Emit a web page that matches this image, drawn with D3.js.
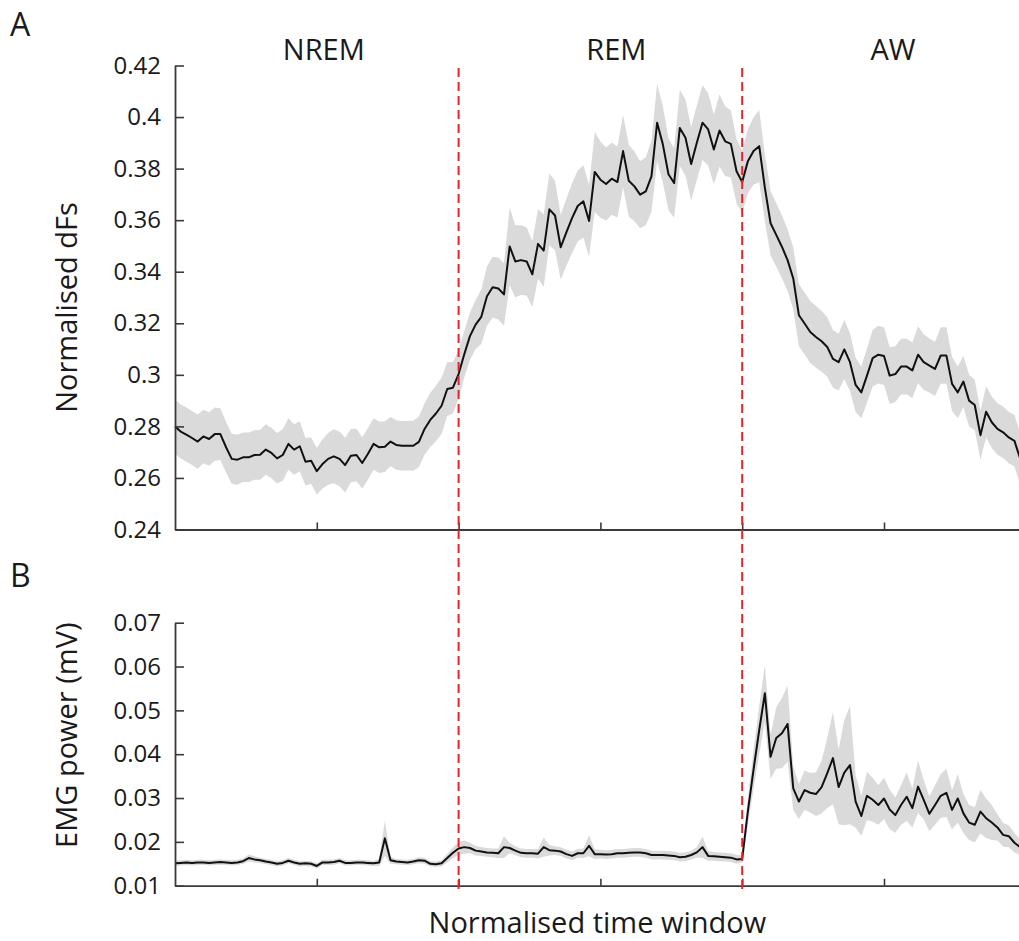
<!DOCTYPE html>
<html>
<head>
<meta charset="utf-8">
<script src="https://cdn.jsdelivr.net/npm/d3@7"></script>
<style>
  body { margin: 0; background: #fff; }
  svg { display: block; font-family: "Open Sans", sans-serif; }
</style>
</head>
<body>
<svg id="chart" width="1019" height="941"></svg>
<script>
// Sleep stages, each normalised to the same number of time bins
const stages = ["NREM", "REM", "AW"];
const binsPerStage = 50;

// Panel A: normalised dF/F (mean and SEM per bin)
const dfsMean = [
  0.2800, 0.2780, 0.2768, 0.2755, 0.2741, 0.2761, 0.2751, 0.2770, 0.2770, 0.2719,
  0.2674, 0.2671, 0.2680, 0.2680, 0.2689, 0.2690, 0.2710, 0.2697, 0.2676, 0.2689,
  0.2732, 0.2710, 0.2723, 0.2663, 0.2667, 0.2626, 0.2654, 0.2674, 0.2684, 0.2674,
  0.2650, 0.2686, 0.2689, 0.2658, 0.2693, 0.2732, 0.2719, 0.2721, 0.2741, 0.2728,
  0.2725, 0.2725, 0.2725, 0.2740, 0.2790, 0.2825, 0.2850, 0.2880, 0.2945, 0.2950,
  0.3003, 0.3080, 0.3150, 0.3195, 0.3225, 0.3305, 0.3340, 0.3335, 0.3312, 0.3498,
  0.3440, 0.3445, 0.3440, 0.3390, 0.3508, 0.3482, 0.3642, 0.3618, 0.3495, 0.3553,
  0.3608, 0.3655, 0.3673, 0.3597, 0.3787, 0.3757, 0.3740, 0.3761, 0.3748, 0.3868,
  0.3753, 0.3731, 0.3699, 0.3712, 0.3770, 0.3978, 0.3895, 0.3778, 0.3744, 0.3958,
  0.3920, 0.3818, 0.3900, 0.3978, 0.3952, 0.3874, 0.3948, 0.3906, 0.3896, 0.3790,
  0.3748, 0.3829, 0.3868, 0.3887, 0.3725, 0.3588, 0.3543, 0.3497, 0.3445, 0.3374,
  0.3231, 0.3199, 0.3166, 0.3147, 0.3130, 0.3108, 0.3062, 0.3049, 0.3099, 0.3049,
  0.2961, 0.2932, 0.2997, 0.3065, 0.3078, 0.3073, 0.2997, 0.3003, 0.3032, 0.3032,
  0.3017, 0.3078, 0.3049, 0.3036, 0.3023, 0.3075, 0.3075, 0.2965, 0.2932, 0.2974,
  0.2900, 0.2883, 0.2766, 0.2857, 0.2816, 0.2790, 0.2777, 0.2757, 0.2744, 0.2675
];
const dfsSem = [
  0.0105, 0.0105, 0.0105, 0.0105, 0.0105, 0.0104, 0.0104, 0.0103, 0.0100, 0.0098,
  0.0097, 0.0097, 0.0096, 0.0096, 0.0096, 0.0097, 0.0098, 0.0098, 0.0098, 0.0100,
  0.0100, 0.0098, 0.0097, 0.0092, 0.0090, 0.0090, 0.0095, 0.0100, 0.0105, 0.0106,
  0.0106, 0.0104, 0.0102, 0.0100, 0.0100, 0.0100, 0.0100, 0.0098, 0.0096, 0.0096,
  0.0096, 0.0096, 0.0097, 0.0098, 0.0100, 0.0105, 0.0108, 0.0110, 0.0105, 0.0100,
  0.0095, 0.0090, 0.0092, 0.0095, 0.0105, 0.0115, 0.0118, 0.0120, 0.0122, 0.0150,
  0.0140, 0.0135, 0.0132, 0.0128, 0.0135, 0.0140, 0.0140, 0.0135, 0.0125, 0.0130,
  0.0135, 0.0138, 0.0140, 0.0140, 0.0155, 0.0148, 0.0142, 0.0140, 0.0138, 0.0140,
  0.0140, 0.0135, 0.0130, 0.0132, 0.0138, 0.0150, 0.0148, 0.0140, 0.0135, 0.0148,
  0.0148, 0.0142, 0.0145, 0.0145, 0.0140, 0.0135, 0.0140, 0.0135, 0.0130, 0.0125,
  0.0120, 0.0125, 0.0130, 0.0140, 0.0130, 0.0125, 0.0123, 0.0122, 0.0120, 0.0120,
  0.0120, 0.0120, 0.0120, 0.0120, 0.0118, 0.0115, 0.0112, 0.0110, 0.0115, 0.0112,
  0.0105, 0.0100, 0.0105, 0.0110, 0.0112, 0.0112, 0.0110, 0.0108, 0.0108, 0.0108,
  0.0108, 0.0110, 0.0108, 0.0105, 0.0105, 0.0110, 0.0110, 0.0105, 0.0100, 0.0100,
  0.0100, 0.0098, 0.0095, 0.0100, 0.0100, 0.0100, 0.0100, 0.0100, 0.0100, 0.0100
];

// Panel B: EMG power in mV (mean and SEM per bin)
const emgMean = [
  0.0151, 0.0152, 0.0153, 0.0152, 0.0153, 0.0153, 0.0152, 0.0153, 0.0154, 0.0153,
  0.0152, 0.0153, 0.0156, 0.0163, 0.0160, 0.0158, 0.0155, 0.0153, 0.0150, 0.0152,
  0.0157, 0.0153, 0.0150, 0.0151, 0.0150, 0.0145, 0.0153, 0.0153, 0.0154, 0.0157,
  0.0152, 0.0152, 0.0153, 0.0153, 0.0152, 0.0151, 0.0153, 0.0208, 0.0158, 0.0155,
  0.0154, 0.0153, 0.0155, 0.0158, 0.0157, 0.0150, 0.0149, 0.0151, 0.0163, 0.0175,
  0.0185, 0.0188, 0.0186, 0.0180, 0.0178, 0.0176, 0.0175, 0.0174, 0.0188, 0.0186,
  0.0180, 0.0175, 0.0174, 0.0174, 0.0173, 0.0188, 0.0181, 0.0180, 0.0178, 0.0172,
  0.0168, 0.0174, 0.0174, 0.0191, 0.0172, 0.0172, 0.0171, 0.0172, 0.0174, 0.0174,
  0.0175, 0.0176, 0.0176, 0.0174, 0.0170, 0.0170, 0.0170, 0.0169, 0.0168, 0.0165,
  0.0166, 0.0170, 0.0176, 0.0188, 0.0168, 0.0167, 0.0166, 0.0165, 0.0164, 0.0160,
  0.0161, 0.0270, 0.0365, 0.0455, 0.0539, 0.0394, 0.0437, 0.0448, 0.0469, 0.0322,
  0.0292, 0.0318, 0.0312, 0.0309, 0.0325, 0.0357, 0.0391, 0.0325, 0.0358, 0.0375,
  0.0292, 0.0259, 0.0305, 0.0296, 0.0284, 0.0299, 0.0274, 0.0261, 0.0284, 0.0303,
  0.0277, 0.0326, 0.0296, 0.0264, 0.0284, 0.0305, 0.0312, 0.0273, 0.0299, 0.0265,
  0.0244, 0.0239, 0.0269, 0.0254, 0.0244, 0.0233, 0.0216, 0.0213, 0.0198, 0.0188
];
const emgSem = [
  0.0006, 0.0006, 0.0006, 0.0006, 0.0006, 0.0006, 0.0006, 0.0006, 0.0006, 0.0006,
  0.0006, 0.0006, 0.0006, 0.0008, 0.0007, 0.0006, 0.0006, 0.0006, 0.0006, 0.0006,
  0.0006, 0.0006, 0.0006, 0.0006, 0.0006, 0.0006, 0.0006, 0.0006, 0.0006, 0.0006,
  0.0006, 0.0006, 0.0006, 0.0006, 0.0006, 0.0006, 0.0008, 0.0040, 0.0008, 0.0006,
  0.0006, 0.0006, 0.0006, 0.0007, 0.0007, 0.0006, 0.0006, 0.0007, 0.0010, 0.0012,
  0.0015, 0.0015, 0.0012, 0.0011, 0.0010, 0.0010, 0.0010, 0.0011, 0.0025, 0.0012,
  0.0010, 0.0010, 0.0010, 0.0010, 0.0011, 0.0022, 0.0012, 0.0010, 0.0010, 0.0010,
  0.0010, 0.0010, 0.0011, 0.0024, 0.0011, 0.0010, 0.0010, 0.0010, 0.0010, 0.0010,
  0.0010, 0.0010, 0.0010, 0.0010, 0.0010, 0.0010, 0.0010, 0.0010, 0.0010, 0.0010,
  0.0010, 0.0010, 0.0012, 0.0024, 0.0011, 0.0010, 0.0010, 0.0010, 0.0010, 0.0010,
  0.0008, 0.0030, 0.0045, 0.0055, 0.0065, 0.0050, 0.0070, 0.0080, 0.0087, 0.0050,
  0.0040, 0.0045, 0.0045, 0.0050, 0.0060, 0.0080, 0.0105, 0.0085, 0.0120, 0.0135,
  0.0060, 0.0045, 0.0055, 0.0050, 0.0045, 0.0047, 0.0045, 0.0040, 0.0045, 0.0055,
  0.0045, 0.0060, 0.0045, 0.0040, 0.0045, 0.0050, 0.0055, 0.0045, 0.0055, 0.0045,
  0.0040, 0.0040, 0.0050, 0.0045, 0.0040, 0.0030, 0.0027, 0.0025, 0.0022, 0.0019
];

// Axis ticks and their labels
const xTicks = [1, 2, 3, 4, 5];
const dfsTicks = [0.24, 0.26, 0.28, 0.30, 0.32, 0.34, 0.36, 0.38, 0.40, 0.42];
const dfsTickLabels = ["0.24", "0.26", "0.28", "0.3", "0.32", "0.34", "0.36", "0.38", "0.4", "0.42"];
const emgTicks = [0.01, 0.02, 0.03, 0.04, 0.05, 0.06, 0.07];
const emgTickLabels = ["0.01", "0.02", "0.03", "0.04", "0.05", "0.06", "0.07"];
const stageBoundaries = [2, 4];

// ---- layout ----
const svg = d3.select("#chart");
const unitsPerStage = 2;
const x = d3.scaleLinear().domain([0, stages.length * unitsPerStage]).range([175, 175 + 6 * 141.8]);
const binX = i => i * unitsPerStage / binsPerStage;

const yA = d3.scaleLinear().domain([0.24, 0.42]).range([529.5, 65.5]);
const yB = d3.scaleLinear().domain([0.01, 0.07]).range([885.7, 622.7]);

const axisColor = "#3a3a3a";
const textColor = "#1a1a1a";

function drawPanel(y, mean, sem, ticks, labels) {
  const idx = d3.range(mean.length);
  const band = d3.area()
    .x(i => x(binX(i)))
    .y0(i => y(mean[i] - sem[i]))
    .y1(i => y(mean[i] + sem[i]));
  const line = d3.line()
    .x(i => x(binX(i)))
    .y(i => y(mean[i]));

  svg.append("path").datum(idx)
    .attr("d", band)
    .attr("fill", "#dadada");
  svg.append("path").datum(idx)
    .attr("d", line)
    .attr("fill", "none")
    .attr("stroke", "#111")
    .attr("stroke-width", 2)
    .attr("stroke-linejoin", "round");

  const yAxis = d3.axisLeft(y)
    .tickValues(ticks)
    .tickFormat((d, i) => labels[i])
    .tickSize(-9)
    .tickSizeOuter(0)
    .tickPadding(14);
  const gy = svg.append("g").attr("transform", `translate(${x(0)},0)`).call(yAxis);

  const xAxis = d3.axisBottom(x)
    .tickValues(xTicks)
    .tickFormat("")
    .tickSize(-7)
    .tickSizeOuter(0);
  const gx = svg.append("g").attr("transform", `translate(0,${y.range()[0]})`).call(xAxis);

  [gy, gx].forEach(g => {
    g.select(".domain").attr("stroke", axisColor).attr("stroke-width", 1.8);
    g.selectAll(".tick line").attr("stroke", axisColor).attr("stroke-width", 1.6);
  });
  gy.selectAll(".tick text")
    .attr("fill", textColor)
    .style("font-size", "24px")
    .style("font-family", "'Open Sans', sans-serif");
}

drawPanel(yA, dfsMean, dfsSem, dfsTicks, dfsTickLabels);
drawPanel(yB, emgMean, emgSem, emgTicks, emgTickLabels);

// Stage boundaries spanning both panels
svg.selectAll(".boundary").data(stageBoundaries).join("line")
  .attr("class", "boundary")
  .attr("x1", d => x(d)).attr("x2", d => x(d))
  .attr("y1", 68).attr("y2", 890)
  .attr("stroke", "#e3242b")
  .attr("stroke-width", 2)
  .attr("stroke-dasharray", "9,5");

// Stage names above panel A
const stageOffsets = [7, 16, 9];
svg.selectAll(".stage").data(stages).join("text")
  .attr("class", "stage")
  .attr("x", (d, i) => x(i * unitsPerStage + unitsPerStage / 2) + stageOffsets[i])
  .attr("y", 60)
  .attr("text-anchor", "middle")
  .attr("fill", textColor)
  .style("font-size", "29px")
  .text(d => d);

// Panel letters
svg.append("text").attr("x", 10).attr("y", 36).attr("fill", textColor)
  .style("font-size", "32px").text("A");
svg.append("text").attr("x", 10).attr("y", 587).attr("fill", textColor)
  .style("font-size", "32px").text("B");

// Axis titles
svg.append("text")
  .attr("transform", `translate(77,${(yA(0.24) + yA(0.42)) / 2 + 10}) rotate(-90)`)
  .attr("text-anchor", "middle").attr("fill", textColor)
  .style("font-size", "29px").text("Normalised dFs");
svg.append("text")
  .attr("transform", `translate(77,${(yB(0.01) + yB(0.07)) / 2 - 19}) rotate(-90)`)
  .attr("text-anchor", "middle").attr("fill", textColor)
  .style("font-size", "29px").text("EMG power (mV)");
svg.append("text")
  .attr("x", x(3) - 3).attr("y", 933)
  .attr("text-anchor", "middle").attr("fill", textColor)
  .style("font-size", "29px").text("Normalised time window");
</script>
</body>
</html>
